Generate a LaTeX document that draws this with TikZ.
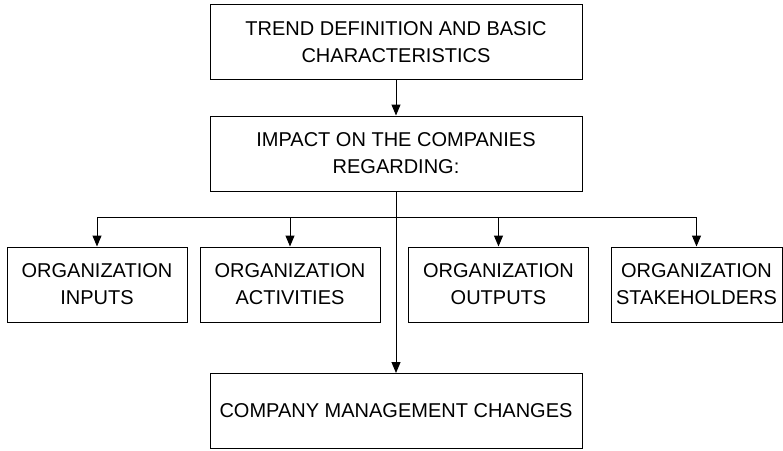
\documentclass[tikz,border=0pt]{standalone}
\usepackage{fontspec}
\setmainfont{Liberation Sans}
\usetikzlibrary{arrows.meta}
\tikzset{
  box/.style={draw, line width=1pt, align=center, minimum height=75pt, inner sep=0pt,
    font=\fontsize{20}{27}\selectfont},
  widebox/.style={box, minimum width=372pt},
  smallbox/.style={box, minimum width=180pt},
  arr/.style={-{Triangle[length=11pt,width=9pt]}, line width=1pt}
}
\begin{document}
\begin{tikzpicture}[x=1pt,y=-1pt]
\useasboundingbox (0,0) rectangle (783,450);
% top of the chart
\node[widebox] (trend) at (396,42) {TREND DEFINITION AND BASIC\\CHARACTERISTICS};
\node[widebox] (impact) at (396,153.5) {IMPACT ON THE COMPANIES\\REGARDING:};
% the four fields
\node[smallbox] (inputs) at (97,284.5) {ORGANIZATION\\INPUTS};
\node[smallbox] (activities) at (290,284.5) {ORGANIZATION\\ACTIVITIES};
\node[smallbox] (outputs) at (498.5,284.5) {ORGANIZATION\\OUTPUTS};
\node[box, minimum width=171pt] (stake) at (696.5,284.5) {ORGANIZATION\\STAKEHOLDERS};
% result
\node[widebox] (mgmt) at (396,411) {COMPANY MANAGEMENT CHANGES};
\coordinate (split) at (396,217.5);
\draw[arr] (trend) -- (impact);
\draw[arr] (impact) -- (mgmt);
\draw[line width=1pt] (inputs.north |- split) -- (stake.north |- split);
\foreach \n in {inputs,activities,outputs,stake}
  \draw[arr] (\n.north |- split) -- (\n.north);
\end{tikzpicture}
\end{document}
